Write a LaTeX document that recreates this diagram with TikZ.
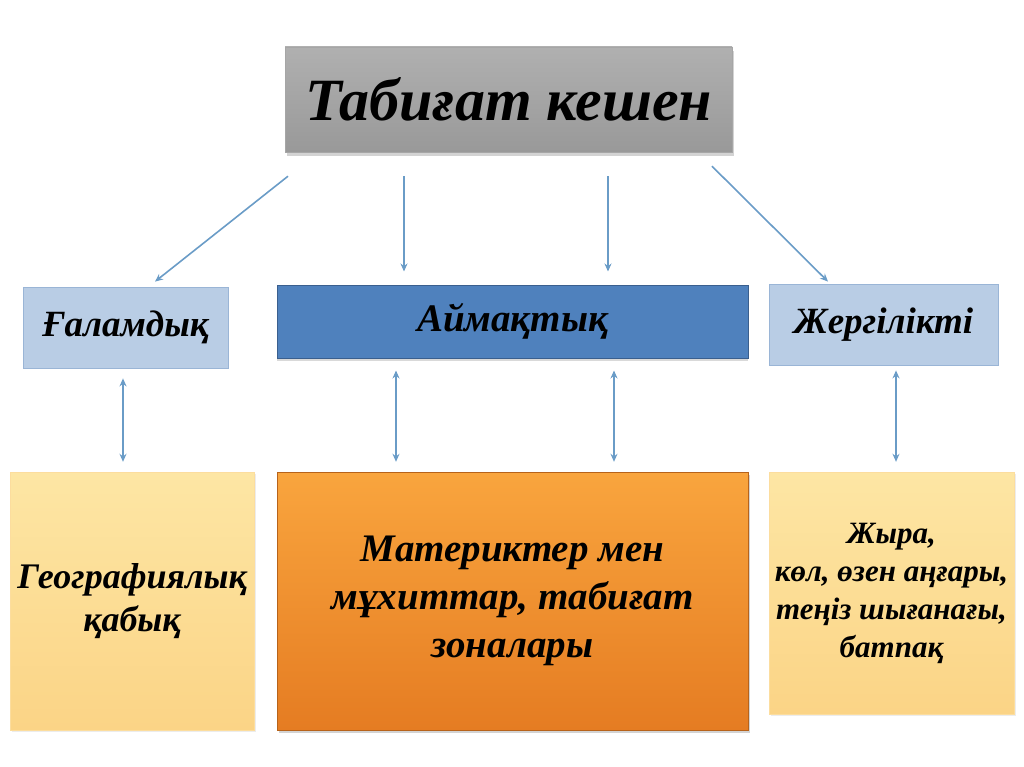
\documentclass[tikz,border=0pt]{standalone}
\usepackage{fontspec}
\setmainfont{Liberation Serif}
\usetikzlibrary{arrows.meta,calc,positioning,shadows}
\definecolor{arrblue}{HTML}{6A9CC7}
\definecolor{lblue}{HTML}{B9CDE5}
\definecolor{lblueedge}{HTML}{9AB5D6}
\definecolor{dblue}{HTML}{4F81BD}
\definecolor{dblueedge}{HTML}{3A5F8E}
\definecolor{ytop}{HTML}{FDE6A4}
\definecolor{ybot}{HTML}{FBD486}
\definecolor{otop}{HTML}{F9A53E}
\definecolor{obot}{HTML}{E57C22}

\begin{document}
\begin{tikzpicture}[x=1pt,y=-1pt,
  every node/.style={font=\bfseries\itshape,align=center,inner sep=0pt},
  titlebox/.style={rectangle,top color=gray!62!white,bottom color=gray!80!white,
    draw=gray!70,drop shadow={shadow xshift=2pt,shadow yshift=-4pt,opacity=0.35}},
  levelbox/.style={rectangle,fill=lblue,draw=lblueedge,line width=0.8pt},
  mainbox/.style={rectangle,fill=dblue,draw=dblueedge,line width=1pt,
    drop shadow={shadow xshift=0pt,shadow yshift=-3pt,opacity=0.3}},
  ybox/.style={rectangle,top color=ytop,bottom color=ybot,draw=ybot!80!white,
    drop shadow={shadow xshift=2pt,shadow yshift=-2pt,opacity=0.15}},
  obox/.style={rectangle,top color=otop,bottom color=obot,draw=obot!80!black,
    drop shadow={shadow xshift=2pt,shadow yshift=-3pt,opacity=0.35}},
  arr/.style={-{Stealth[length=8pt,width=7pt]},arrblue,line width=1.6pt},
  darr/.style={{Stealth[length=8pt,width=7pt]}-{Stealth[length=8pt,width=7pt]},arrblue,line width=1.6pt}]
  \useasboundingbox (0,0) rectangle (1024,767);

  % boxes
  \node[titlebox,minimum width=447pt,minimum height=105pt,
    font=\fontsize{60}{66}\bfseries\itshape] (kesh) at (508.5,99.5) {Табиғат кешен};
  \node[levelbox,minimum width=205pt,minimum height=81pt,
    font=\fontsize{37}{42}\bfseries\itshape] (ghal) at (125.5,327.5) {Ғаламдық};
  \node[mainbox,minimum width=471pt,minimum height=73pt,
    font=\fontsize{39}{42}\bfseries\itshape] (aimaq) at (512.5,321.5) {Аймақтық};
  \node[levelbox,minimum width=229pt,minimum height=81pt,
    font=\fontsize{37}{42}\bfseries\itshape] (zher) at (883.5,324.5) {Жергілікті};

  \node[ybox,minimum width=244pt,minimum height=258pt,
    font=\fontsize{36}{43}\bfseries\itshape] (geo) at (132,601) {Географиялық\\қабық};
  \node[obox,minimum width=471pt,minimum height=258pt,
    font=\fontsize{39}{48}\bfseries\itshape] (mater) at (512.5,601)
    {Материктер мен\\мұхиттар, табиғат\\зоналары};
  \node[ybox,minimum width=245pt,minimum height=242pt,
    font=\fontsize{31}{38}\bfseries\itshape] (zhyra) at (891.5,593)
    {Жыра,\\ көл, өзен аңғары,\\теңіз шығанағы,\\батпақ};

  % arrows from the title
  \draw[arr] ([xshift=-220.5pt,yshift=-24pt]kesh.south) -- ([xshift=29.5pt,yshift=5pt]ghal.north);
  \draw[arr] ([xshift=-104.5pt,yshift=-24pt]kesh.south) -- ([xshift=-108.5pt,yshift=13pt]aimaq.north);
  \draw[arr] ([xshift=99.5pt,yshift=-24pt]kesh.south) -- ([xshift=95.5pt,yshift=13pt]aimaq.north);
  \draw[arr] ([xshift=203.5pt,yshift=-14pt]kesh.south) -- ([xshift=-55.5pt,yshift=2pt]zher.north);

  % two-way links
  \draw[darr] ([xshift=-2.5pt,yshift=-10pt]ghal.south) -- ([xshift=-9pt,yshift=10pt]geo.north);
  \draw[darr] ([xshift=-116.5pt,yshift=-12pt]aimaq.south) -- ([xshift=-116.5pt,yshift=10pt]mater.north);
  \draw[darr] ([xshift=101.5pt,yshift=-12pt]aimaq.south) -- ([xshift=101.5pt,yshift=10pt]mater.north);
  \draw[darr] ([xshift=12.5pt,yshift=-5pt]zher.south) -- ([xshift=4.5pt,yshift=10pt]zhyra.north);
\end{tikzpicture}
\end{document}
